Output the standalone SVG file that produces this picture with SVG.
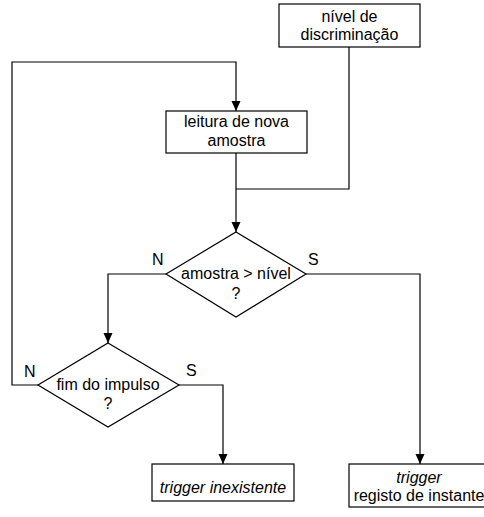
<svg xmlns="http://www.w3.org/2000/svg" width="484" height="517" viewBox="0 0 484 517">
<defs>
<marker id="arr" markerWidth="11" markerHeight="10" refX="10" refY="4.5" orient="auto" markerUnits="userSpaceOnUse">
<path d="M0,0 L10,4.5 L0,9 Z" fill="#000"/>
</marker>
<style>
.n{fill:#fff;stroke:#000;stroke-width:1.2}
.c{fill:none;stroke:#000;stroke-width:1.2}
text{font-family:"Liberation Sans",Arial,sans-serif;font-size:16px;fill:#000}
.m{text-anchor:middle}
.i{font-style:italic}
</style>
</defs>
<rect width="484" height="517" fill="#fff"/>
<g id="connectors">
<path class="c" d="M349,47 V189 H236"/>
<path class="c" d="M236,153 V232" marker-end="url(#arr)"/>
<path class="c" d="M38,385 H12 V62 H236 V111" marker-end="url(#arr)"/>
<path class="c" d="M166,274 H108 V343" marker-end="url(#arr)"/>
<path class="c" d="M306,274 H420 V464" marker-end="url(#arr)"/>
<path class="c" d="M179,385 H223 V464" marker-end="url(#arr)"/>
</g>
<g id="discriminacao">
<rect class="n" x="279" y="4" width="141" height="43"/>
<text class="m" x="349.5" y="22">nível de</text>
<text class="m" x="349.5" y="40">discriminação</text>
</g>
<g id="leitura">
<rect class="n" x="166" y="111" width="141" height="42"/>
<text class="m" x="236.5" y="127">leitura de nova</text>
<text class="m" x="236.5" y="146">amostra</text>
</g>
<g id="amostra_nivel">
<polygon class="n" points="236,232 306,274 236,317 166,274"/>
<text class="m" x="236" y="279">amostra &gt; nível</text>
<text class="m" x="236" y="299">?</text>
<text x="152" y="265">N</text>
<text x="308" y="265">S</text>
</g>
<g id="fim_impulso">
<polygon class="n" points="108,343 179,385 108,427 38,385"/>
<text class="m" x="108" y="390">fim do impulso</text>
<text class="m" x="108" y="409">?</text>
<text x="24" y="377">N</text>
<text x="186" y="376">S</text>
</g>
<g id="trigger_inexistente">
<rect class="n" x="152" y="464" width="142" height="37"/>
<text class="m i" x="223" y="493">trigger inexistente</text>
</g>
<g id="trigger_registo">
<rect class="n" x="349" y="464" width="142" height="43"/>
<text class="m i" x="419" y="483">trigger</text>
<text class="m" x="419" y="501">registo de instante</text>
</g>
</svg>
